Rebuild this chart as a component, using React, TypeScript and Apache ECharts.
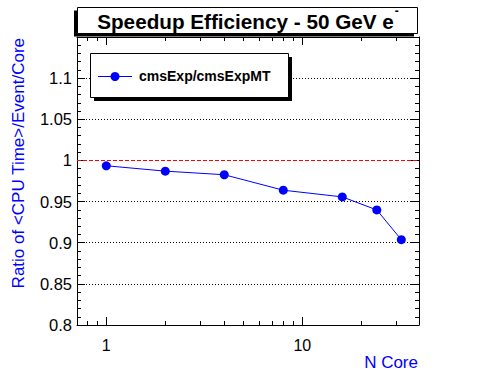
import React, { useEffect, useRef } from "react";
import * as echarts from "echarts";

const nCores = [1, 2, 4, 8, 16, 24, 32];
const ratios = [0.9935, 0.987, 0.9826, 0.9638, 0.9557, 0.9398, 0.9037];
const xTickValues = [0.8, 0.9, 1, 2, 3, 4, 5, 6, 7, 8, 9, 10, 20, 30];
const xMajorTicks = [1, 10];
const yMin = 0.8;
const yMax = 1.15;
const yInterval = 0.05;
const refLine = 1;
const seriesName = "cmsExp/cmsExpMT";
const titleText = "Speedup Efficiency - 50 GeV e";
const titleSup = "-";
const yTitle = "Ratio of <CPU Time>/Event/Core";
const xTitle = "N Core";

const FONT = "'Liberation Sans', Arial, Helvetica, sans-serif";

export default function App() {
  const ref = useRef<HTMLDivElement>(null);
  useEffect(() => {
    if (!ref.current) return;
    const chart = echarts.init(ref.current, null, { renderer: "svg" });
    const tickData = xTickValues.map((v) => [v, yMin, xMajorTicks.includes(v) ? 1 : 0]);
    const splitColors: string[] = [];
    for (let v = yMin; v <= yMax + 1e-9; v += yInterval) {
      splitColors.push(Math.abs(v - refLine) < 1e-6 ? "rgba(0,0,0,0)" : "#000");
    }
    const option: any = {
      animation: false,
      backgroundColor: "#fff",
      textStyle: { fontFamily: FONT },
      grid: { left: 77, right: 77, top: 37, bottom: 47, containLabel: false },
      xAxis: [
        {
          type: "log",
          logBase: 10,
          min: 0.709,
          max: 39.4,
          axisLine: { show: true, onZero: false, lineStyle: { color: "#000", width: 1 } },
          axisTick: { show: false },
          splitLine: { show: false },
          axisLabel: {
            color: "#000",
            fontSize: 16,
            fontFamily: FONT,
            margin: 12,
            showMinLabel: false,
            showMaxLabel: false,
            formatter: (v: number) =>
              xMajorTicks.find((m) => Math.abs(m - v) < 1e-6) !== undefined ? String(Math.round(v)) : "",
          },
        },
        {
          type: "log",
          logBase: 10,
          min: 0.709,
          max: 39.4,
          position: "top",
          axisLine: { show: true, onZero: false, lineStyle: { color: "#000", width: 1 } },
          axisTick: { show: false },
          axisLabel: { show: false },
          splitLine: { show: false },
        },
      ],
      yAxis: [
        {
          type: "value",
          min: yMin,
          max: yMax,
          interval: yInterval,
          axisLine: { show: true, onZero: false, lineStyle: { color: "#000", width: 1 } },
          axisTick: { show: true, inside: true, length: 8, lineStyle: { color: "#000", width: 1 } },
          minorTick: { show: true, splitNumber: 5, length: 4, lineStyle: { color: "#000", width: 1 } },
          splitLine: { show: true, lineStyle: { color: splitColors, type: [1, 2], width: 1 } },
          axisLabel: {
            color: "#000",
            fontSize: 16.5,
            fontFamily: FONT,
            margin: 5,
            showMaxLabel: false,
            formatter: (v: number) => String(parseFloat(v.toFixed(2))),
          },
        },
        {
          type: "value",
          min: yMin,
          max: yMax,
          interval: yInterval,
          position: "right",
          axisLine: { show: true, onZero: false, lineStyle: { color: "#000", width: 1 } },
          axisTick: { show: true, inside: true, length: 8, lineStyle: { color: "#000", width: 1 } },
          minorTick: { show: true, splitNumber: 5, length: 4, lineStyle: { color: "#000", width: 1 } },
          splitLine: { show: false },
          axisLabel: { show: false },
        },
      ],
      series: [
        {
          type: "custom",
          xAxisIndex: 0,
          yAxisIndex: 0,
          silent: true,
          clip: false,
          data: tickData,
          encode: { x: 0, y: 1 },
          renderItem: (params: any, api: any) => {
            const v = api.value(0);
            const major = api.value(2) === 1;
            const len = major ? 8 : 4;
            const b = api.coord([v, yMin]);
            const t = api.coord([v, yMax]);
            const x = Math.round(b[0]) + 0.5;
            return {
              type: "group",
              children: [
                { type: "line", shape: { x1: x, y1: b[1], x2: x, y2: b[1] - len }, style: { stroke: "#000", lineWidth: 1 } },
                { type: "line", shape: { x1: x, y1: t[1], x2: x, y2: t[1] + len }, style: { stroke: "#000", lineWidth: 1 } },
              ],
            };
          },
          z: 5,
        },
        {
          name: seriesName,
          type: "line",
          xAxisIndex: 0,
          yAxisIndex: 0,
          data: nCores.map((c, i) => [c, ratios[i]]),
          symbol: "circle",
          symbolSize: 9,
          lineStyle: { color: "#0000ff", width: 1 },
          itemStyle: { color: "#0000ff" },
          z: 10,
          markLine: {
            silent: true,
            symbol: "none",
            label: { show: false },
            lineStyle: { color: "#ff0000", type: [4, 2], width: 1 },
            data: [{ yAxis: refLine }],
          },
        },
      ],
      graphic: [
        { type: "rect", shape: { x: 74, y: 10.5, width: 340, height: 26 }, style: { fill: "#000" }, z: 100 },
        { type: "rect", shape: { x: 77.5, y: 7.5, width: 340, height: 26 }, style: { fill: "#fff", stroke: "#000", lineWidth: 1 }, z: 101 },
        {
          type: "text",
          x: 248,
          y: 21.5,
          z: 102,
          style: {
            text: "{t|" + titleText + "}{s|" + titleSup + "}",
            align: "center",
            verticalAlign: "middle",
            rich: {
              t: { fontFamily: FONT, fontSize: 20.7, fontWeight: "bold", fill: "#000", lineHeight: 34, verticalAlign: "middle" },
              s: { fontFamily: FONT, fontSize: 12, fontWeight: "bold", fill: "#000", lineHeight: 4, verticalAlign: "top", padding: [0, 0, 0, 1] },
            },
          },
        },
        { type: "rect", shape: { x: 94, y: 57, width: 198, height: 44 }, style: { fill: "#000" }, z: 100 },
        { type: "rect", shape: { x: 90.5, y: 53.5, width: 198, height: 44 }, style: { fill: "#fff", stroke: "#000", lineWidth: 1 }, z: 101 },
        { type: "line", shape: { x1: 98, y1: 76.5, x2: 132, y2: 76.5 }, style: { stroke: "#0000ff", lineWidth: 1 }, z: 102 },
        { type: "circle", shape: { cx: 115, cy: 76.5, r: 4.5 }, style: { fill: "#0000ff" }, z: 102 },
        {
          type: "text",
          x: 139,
          y: 76,
          z: 102,
          style: { text: seriesName, fontFamily: FONT, fontSize: 14, fontWeight: "bold", fill: "#000", align: "left", verticalAlign: "middle" },
        },
        {
          type: "text",
          x: 18,
          y: 38,
          rotation: Math.PI / 2,
          style: { text: yTitle, fontFamily: FONT, fontSize: 17, fill: "#0000ff", align: "right", verticalAlign: "middle" },
        },
        {
          type: "text",
          x: 418,
          y: 362,
          style: { text: xTitle, fontFamily: FONT, fontSize: 17, fill: "#0000ff", align: "right", verticalAlign: "middle" },
        },
      ],
    };
    chart.setOption(option);
    return () => chart.dispose();
  }, []);
  return <div ref={ref} style={{ width: 496, height: 372, position: "absolute", left: 0, top: 0 }} />;
}
